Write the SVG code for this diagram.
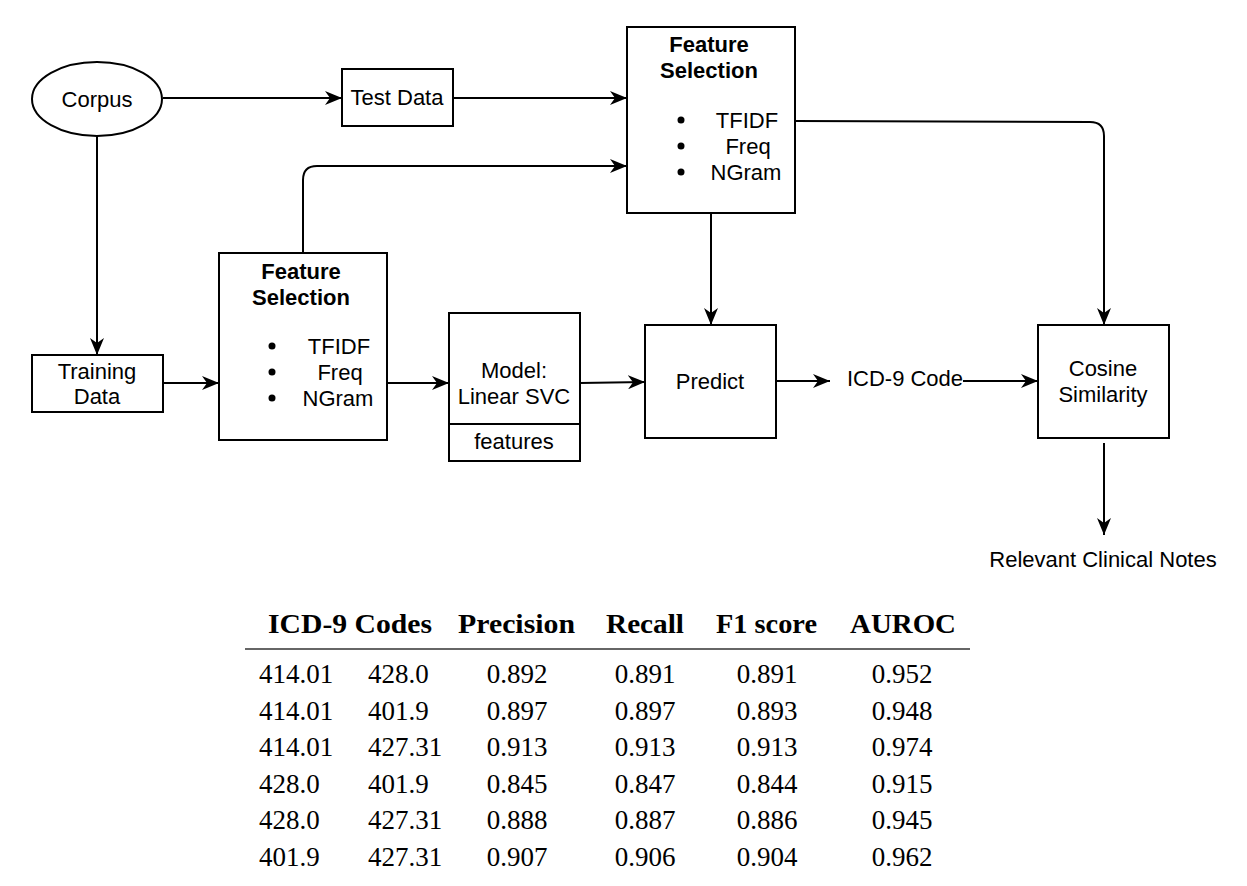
<svg xmlns="http://www.w3.org/2000/svg" width="1247" height="886" viewBox="0 0 1247 886">
<defs>
<style>
.box{fill:#fff;stroke:#000;stroke-width:2}
.t{font-family:"Liberation Sans",Arial,sans-serif;font-size:22px;fill:#000;text-anchor:middle}
.b{font-weight:bold}
.c{fill:none;stroke:#000;stroke-width:2}
.h{font-family:"Liberation Serif","Times New Roman",serif;font-size:27px;font-weight:bold;fill:#000}
.d{font-family:"Liberation Serif","Times New Roman",serif;font-size:27px;fill:#000}
.m{text-anchor:middle}
</style>
<marker id="arr" markerUnits="userSpaceOnUse" markerWidth="17" markerHeight="14" viewBox="0 0 17 14" refX="17" refY="7" orient="auto">
<path d="M0,0 L17,7 L0,14 L5,7 Z" fill="#000"/>
</marker>
</defs>
<rect width="1247" height="886" fill="#fff"/>

<g id="connectors">
<path class="c" d="M163,98 L342,98" marker-end="url(#arr)"/>
<path class="c" d="M453,98 L627,98" marker-end="url(#arr)"/>
<path class="c" d="M97,137 L97,355" marker-end="url(#arr)"/>
<path class="c" d="M163,383 L219,383" marker-end="url(#arr)"/>
<path class="c" d="M387,383 L449,383" marker-end="url(#arr)"/>
<path class="c" d="M580,383 L645,382" marker-end="url(#arr)"/>
<path class="c" d="M776,381 L830,381" marker-end="url(#arr)"/>
<path class="c" d="M963,381 L1038,381" marker-end="url(#arr)"/>
<path class="c" d="M303,253 L303,180 Q303,166 317,166 L627,166" marker-end="url(#arr)"/>
<path class="c" d="M795,121 L1090,122 Q1104,122 1104,136 L1104,325" marker-end="url(#arr)"/>
<path class="c" d="M711,213 L711,325" marker-end="url(#arr)"/>
<path class="c" d="M1104,443 L1104,535" marker-end="url(#arr)"/>
</g>

<g id="corpus">
<ellipse class="box" cx="97" cy="99" rx="65" ry="37"/>
<text class="t" x="97" y="107">Corpus</text>
</g>

<g id="test-data">
<rect class="box" x="342" y="69" width="111" height="57"/>
<text class="t" x="397" y="105">Test Data</text>
</g>

<g id="feature-selection-test">
<rect class="box" x="627" y="27" width="168" height="186"/>
<text class="t b" x="709" y="52">Feature</text>
<text class="t b" x="709" y="78">Selection</text>
<circle cx="681" cy="120" r="3.5"/>
<circle cx="681" cy="146" r="3.5"/>
<circle cx="681" cy="172" r="3.5"/>
<text class="t" x="747" y="128">TFIDF</text>
<text class="t" x="748" y="154">Freq</text>
<text class="t" x="746" y="180">NGram</text>
</g>

<g id="training-data">
<rect class="box" x="32" y="355" width="131" height="57"/>
<text class="t" x="97" y="379">Training</text>
<text class="t" x="97" y="404">Data</text>
</g>

<g id="feature-selection-train">
<rect class="box" x="219" y="253" width="168" height="187"/>
<text class="t b" x="301" y="279">Feature</text>
<text class="t b" x="301" y="305">Selection</text>
<circle cx="272" cy="346" r="3.5"/>
<circle cx="272" cy="372" r="3.5"/>
<circle cx="272" cy="398" r="3.5"/>
<text class="t" x="339" y="354">TFIDF</text>
<text class="t" x="340" y="380">Freq</text>
<text class="t" x="338" y="406">NGram</text>
</g>

<g id="model">
<rect class="box" x="449" y="313" width="131" height="148"/>
<line x1="449" y1="424" x2="580" y2="424" stroke="#000" stroke-width="2"/>
<text class="t" x="514" y="378">Model:</text>
<text class="t" x="514" y="404">Linear SVC</text>
<text class="t" x="514" y="449">features</text>
</g>

<g id="predict">
<rect class="box" x="645" y="325" width="131" height="113"/>
<text class="t" x="710" y="389">Predict</text>
</g>

<g id="icd9-code">
<text class="t" x="905" y="386">ICD-9 Code</text>
</g>

<g id="cosine-similarity">
<rect class="box" x="1038" y="325" width="131" height="113"/>
<text class="t" x="1103" y="376">Cosine</text>
<text class="t" x="1103" y="402">Similarity</text>
</g>

<g id="relevant-notes">
<text class="t" x="1103" y="567">Relevant Clinical Notes</text>
</g>

<g id="table">
<text class="h" x="268" y="633" textLength="164" lengthAdjust="spacingAndGlyphs">ICD-9 Codes</text>
<text class="h" x="458" y="633" textLength="117" lengthAdjust="spacingAndGlyphs">Precision</text>
<text class="h" x="606" y="633" textLength="78" lengthAdjust="spacingAndGlyphs">Recall</text>
<text class="h" x="716" y="633" textLength="101" lengthAdjust="spacingAndGlyphs">F1 score</text>
<text class="h" x="850" y="633" textLength="106" lengthAdjust="spacingAndGlyphs">AUROC</text>
<line x1="245" y1="649" x2="970" y2="649" stroke="#333" stroke-width="1.5"/>

<g class="d">
<text x="259" y="683">414.01</text><text x="368" y="683">428.0</text>
<text class="m" x="517" y="683">0.892</text><text class="m" x="645" y="683">0.891</text><text class="m" x="767" y="683">0.891</text><text class="m" x="902" y="683">0.952</text>
<text x="259" y="720">414.01</text><text x="368" y="720">401.9</text>
<text class="m" x="517" y="720">0.897</text><text class="m" x="645" y="720">0.897</text><text class="m" x="767" y="720">0.893</text><text class="m" x="902" y="720">0.948</text>
<text x="259" y="756">414.01</text><text x="368" y="756">427.31</text>
<text class="m" x="517" y="756">0.913</text><text class="m" x="645" y="756">0.913</text><text class="m" x="767" y="756">0.913</text><text class="m" x="902" y="756">0.974</text>
<text x="259" y="793">428.0</text><text x="368" y="793">401.9</text>
<text class="m" x="517" y="793">0.845</text><text class="m" x="645" y="793">0.847</text><text class="m" x="767" y="793">0.844</text><text class="m" x="902" y="793">0.915</text>
<text x="259" y="829">428.0</text><text x="368" y="829">427.31</text>
<text class="m" x="517" y="829">0.888</text><text class="m" x="645" y="829">0.887</text><text class="m" x="767" y="829">0.886</text><text class="m" x="902" y="829">0.945</text>
<text x="259" y="866">401.9</text><text x="368" y="866">427.31</text>
<text class="m" x="517" y="866">0.907</text><text class="m" x="645" y="866">0.906</text><text class="m" x="767" y="866">0.904</text><text class="m" x="902" y="866">0.962</text>
</g>
</g>
</svg>
